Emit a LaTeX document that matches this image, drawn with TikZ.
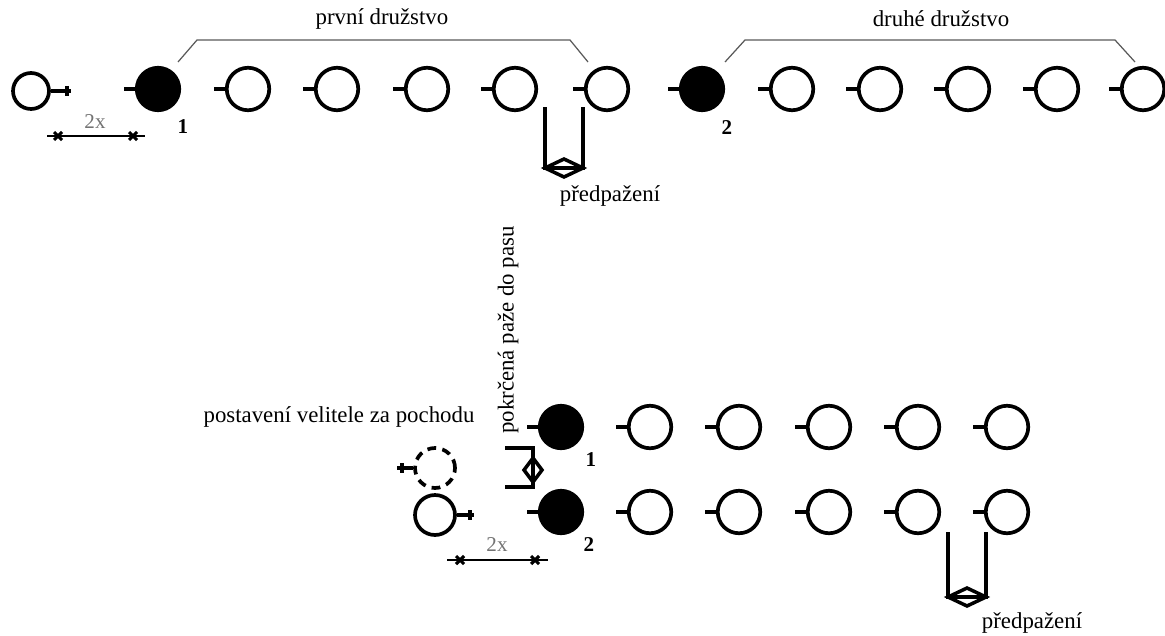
\documentclass[tikz,border=0pt]{standalone}
\usepackage{fontspec}
\setmainfont{Liberation Serif}
\tikzset{
	member/.style={circle, draw, line width=2.1pt, minimum size=0.85cm, inner sep=0pt},
	leader/.style={member, fill=black},
	chief/.style={member, minimum size=0.8cm},
	stub/.style={line width=2.4pt},
	arm/.style={line width=2pt, line join=miter},
	brace/.style={line width=0.7pt, draw=black!65},
	cross/.style={line width=1.8pt},
	lbl/.style={font=\fontsize{13}{15}\selectfont, inner sep=0pt},
	num/.style={font=\fontsize{12}{14}\selectfont\bfseries, inner sep=0pt},
	meas/.style={font=\fontsize{12}{14}\selectfont, text=black!55, inner sep=0pt},
}
\begin{document}
\begin{tikzpicture}[x=0.02cm, y=-0.02cm]
	\useasboundingbox (0,0) rectangle (1165,635);
	\def\ya{89};
	\def\yb{427};
	\def\yc{512};
	% upper line: commander and two squads
	\node[chief, minimum size=0.72cm] (c0) at (31,91) {};
	\draw[stub] (c0.east) -- ++(20,0) ++(-4,-5) -- ++(0,10);
	\node[leader] (l1) at (158,\ya) {};
	\draw[stub] (l1.west) -- ++(-11,0);
	\foreach \x [count=\i] in {248,337,427,515,607}{
		\node[member] (a\i) at (\x,\ya) {};
		\draw[stub] (a\i.west) -- ++(-11,0);
	}
	\node[leader] (l2) at (702,\ya) {};
	\draw[stub] (l2.west) -- ++(-11,0);
	\foreach \x [count=\i] in {792,880,968,1057,1143}{
		\node[member] (b\i) at (\x,\ya) {};
		\draw[stub] (b\i.west) -- ++(-11,0);
	}
	\node[num] (n1) at (183,127) {1};
	\node[num] (n2) at (727,128) {2};
	\draw[brace] (178,62) -- (197,40) -- (570,40) -- (588,62);
	\draw[brace] (725,62) -- (745,40) -- (1115,40) -- (1135,62);
	\node[lbl] (s1) at (382,19) {první družstvo};
	\node[lbl] (s2) at (941,19) {druhé družstvo};
	% distance
	\draw[line width=1.6pt] (47,136) -- (145,136);
	\draw[cross] (54,132) -- (62,140) (54,140) -- (62,132);
	\draw[cross] (129,132) -- (137,140) (129,140) -- (137,132);
	\node[meas] (d1) at (95,122) {2x};
	% arms forward
	\draw[arm] (545,107) -- (545,168) -- (583,168) -- (583,107);
	\draw[arm] (545,168) -- (564,159) -- (583,168) -- (564,177) -- cycle;
	\node[lbl] (p1) at (610,196) {předpažení};
	% lower part: column of two
	\node[lbl, rotate=90] (p2) at (508,330) {pokrčená paže do pasu};
	\node[lbl] (v0) at (339,417) {postavení velitele za pochodu};
	\node[chief, dashed, dash pattern=on 5pt off 3.6pt] (c1) at (435,468) {};
	\draw[stub] (c1.west) -- ++(-16,0) ++(5,-5) -- ++(0,10);
	\node[chief] (c2) at (435,515) {};
	\draw[stub] (c2.east) -- ++(17,0) ++(-4,-5) -- ++(0,10);
	\node[leader] (l3) at (561,\yb) {};
	\draw[stub] (l3.west) -- ++(-11,0);
	\node[leader] (l4) at (561,\yc) {};
	\draw[stub] (l4.west) -- ++(-11,0);
	\foreach \x [count=\i] in {650,739,829,918,1007}{
		\node[member] (e\i) at (\x,\yb) {};
		\draw[stub] (e\i.west) -- ++(-11,0);
		\node[member] (f\i) at (\x,\yc) {};
		\draw[stub] (f\i.west) -- ++(-11,0);
	}
	\node[num] (n3) at (591,460) {1};
	\node[num] (n4) at (589,545) {2};
	% arms bent
	\draw[arm] (505,448) -- (533,448) -- (533,487) -- (505,487);
	\draw[arm] (533,458) -- (542,470) -- (533,482) -- (524,470) -- cycle;
	% distance
	\draw[line width=1.6pt] (447,560) -- (548,560);
	\draw[cross] (456,556) -- (464,564) (456,564) -- (464,556);
	\draw[cross] (531,556) -- (539,564) (531,564) -- (539,556);
	\node[meas] (d2) at (497,545) {2x};
	% arms forward
	\draw[arm] (948,532) -- (948,597) -- (986,597) -- (986,532);
	\draw[arm] (948,597) -- (967,588) -- (986,597) -- (967,606) -- cycle;
	\node[lbl] (p3) at (1032,623) {předpažení};
\end{tikzpicture}
\end{document}
